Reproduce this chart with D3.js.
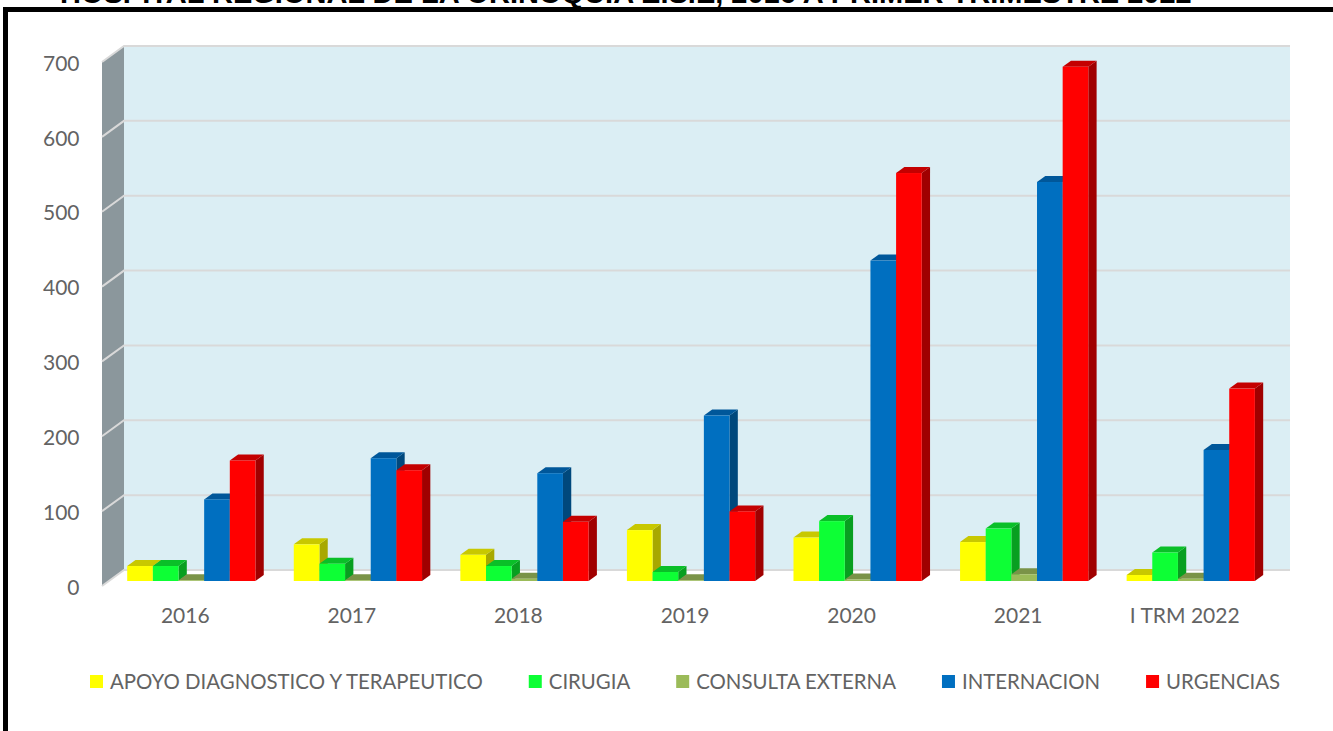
<!DOCTYPE html>
<html lang="es">
<head>
<meta charset="UTF-8">
<title>Hospital Regional de la Orinoquia</title>
<script src="https://d3js.org/d3.v7.min.js"></script>
<style>
    html, body { margin: 0; padding: 0; background: #fff; overflow: hidden; }
    svg { display: block; }
    text { font-family: Lato, sans-serif; fill: #636363; }
    .title { font-family: "Liberation Sans", Arial, sans-serif; font-weight: bold; fill: #000; }
</style>
</head>
<body>
<svg id="chart" width="1333" height="731"></svg>
<script>
const titleText = "HOSPITAL REGIONAL DE LA ORINOQUIA E.S.E, 2016 A PRIMER TRIMESTRE 2022";
const categories = ["2016", "2017", "2018", "2019", "2020", "2021", "I TRM 2022"];
const seriesNames = ["APOYO DIAGNOSTICO Y TERAPEUTICO", "CIRUGIA", "CONSULTA EXTERNA", "INTERNACION", "URGENCIAS"];
const apoyo = [20, 49, 35, 68, 58, 52, 8];
const cirugia = [20, 23, 20, 12, 80, 70, 38];
const consulta = [1, 1, 3, 1, 2, 9, 3];
const internacion = [109, 164, 144, 221, 428, 533, 175];
const urgencias = [161, 148, 79, 93, 545, 687, 257];
const frontColors = ["#ffff00", "#0dff35", "#9bbb59", "#006fc0", "#ff0000"];
const topColors = ["#c8c800", "#0abf28", "#7a9348", "#00579a", "#c40000"];
const sideColors = ["#a8a800", "#089f20", "#66803a", "#00487c", "#a00000"];
const seriesValues = [apoyo, cirugia, consulta, internacion, urgencias];

const svg = d3.select("#chart");

// chart box
const left = 102, right = 1268, floorY = 586, unitsH = 524;
const wallDx = 22, wallDy = -16;   // depth of the side wall
const barDx = 6, barDy = -5;       // bars stand a bit behind the front edge
const depthX = 8.3, depthY = -6;   // depth of a bar

const x = d3.scaleBand().domain(categories).range([left, right]);
const inner = d3.scaleBand().domain(d3.range(seriesNames.length)).range([0, x.bandwidth() * 0.77]);
const y = d3.scaleLinear().domain([0, 700]).range([floorY, floorY - unitsH]);
const ticks = d3.range(0, 701, 100);

const poly = pts => pts.map(p => p.join(",")).join(" ");

// frame and clipped title
svg.append("text").attr("class", "title")
    .attr("x", 60).attr("y", 3).attr("font-size", 29)
    .text(titleText);
svg.append("rect").attr("x", 3).attr("y", 7).attr("width", 1330).attr("height", 5).attr("fill", "#000");
svg.append("rect").attr("x", 3).attr("y", 7).attr("width", 5).attr("height", 724).attr("fill", "#000");

// walls
svg.append("rect")
    .attr("x", left + wallDx).attr("y", y(700) + wallDy)
    .attr("width", right - left).attr("height", unitsH)
    .attr("fill", "#dbeef4");
svg.append("polygon")
    .attr("points", poly([[left, y(700)], [left + wallDx, y(700) + wallDy], [left + wallDx, y(0) + wallDy], [left, y(0)]]))
    .attr("fill", "#8b979c");

// gridlines
const grid = svg.append("g").attr("fill", "none").attr("stroke", "#d9d9d9").attr("stroke-width", 2);
ticks.forEach(t => {
    grid.append("polyline")
        .attr("points", poly([[left, y(t)], [left + wallDx, y(t) + wallDy], [right + wallDx, y(t) + wallDy]]));
});

// bars, group by group so later ones cover earlier sides
categories.forEach((cat, i) => {
    const g = svg.append("g").attr("transform", `translate(${x(cat) + barDx + 19.2},${barDy})`);
    seriesValues.forEach((vals, s) => {
        const x0 = inner(s), x1 = x0 + inner.bandwidth();
        const y0 = y(0), y1 = y(vals[i]);
        g.append("polygon")
            .attr("points", poly([[x1, y1], [x1 + depthX, y1 + depthY], [x1 + depthX, y0 + depthY], [x1, y0]]))
            .attr("fill", sideColors[s]);
        g.append("polygon")
            .attr("points", poly([[x0, y1], [x0 + depthX, y1 + depthY], [x1 + depthX, y1 + depthY], [x1, y1]]))
            .attr("fill", topColors[s]);
        g.append("rect")
            .attr("x", x0).attr("y", y1)
            .attr("width", inner.bandwidth()).attr("height", y0 - y1)
            .attr("fill", frontColors[s]);
    });
});

// axes
const yAxis = svg.append("g").attr("transform", "translate(88.5,1.5)")
    .call(d3.axisLeft(y).tickValues(ticks).tickSize(0).tickPadding(9));
const xAxis = svg.append("g").attr("transform", "translate(0,608)")
    .call(d3.axisBottom(x).tickSize(0).tickPadding(0));
[yAxis, xAxis].forEach(a => {
    a.select(".domain").remove();
    a.selectAll("text").attr("font-size", 21).attr("font-family", "Lato, sans-serif").attr("fill", "#636363");
});

// legend, laid out left to right from the measured label widths
let lx = 90;
seriesNames.forEach((name, s) => {
    svg.append("rect").attr("x", lx).attr("y", 675).attr("width", 13).attr("height", 13).attr("fill", frontColors[s]);
    const t = svg.append("text").attr("x", lx + 20).attr("y", 689).attr("font-size", 20.4).text(name);
    lx += 20 + t.node().getComputedTextLength() + 46;
});
</script>
</body>
</html>
